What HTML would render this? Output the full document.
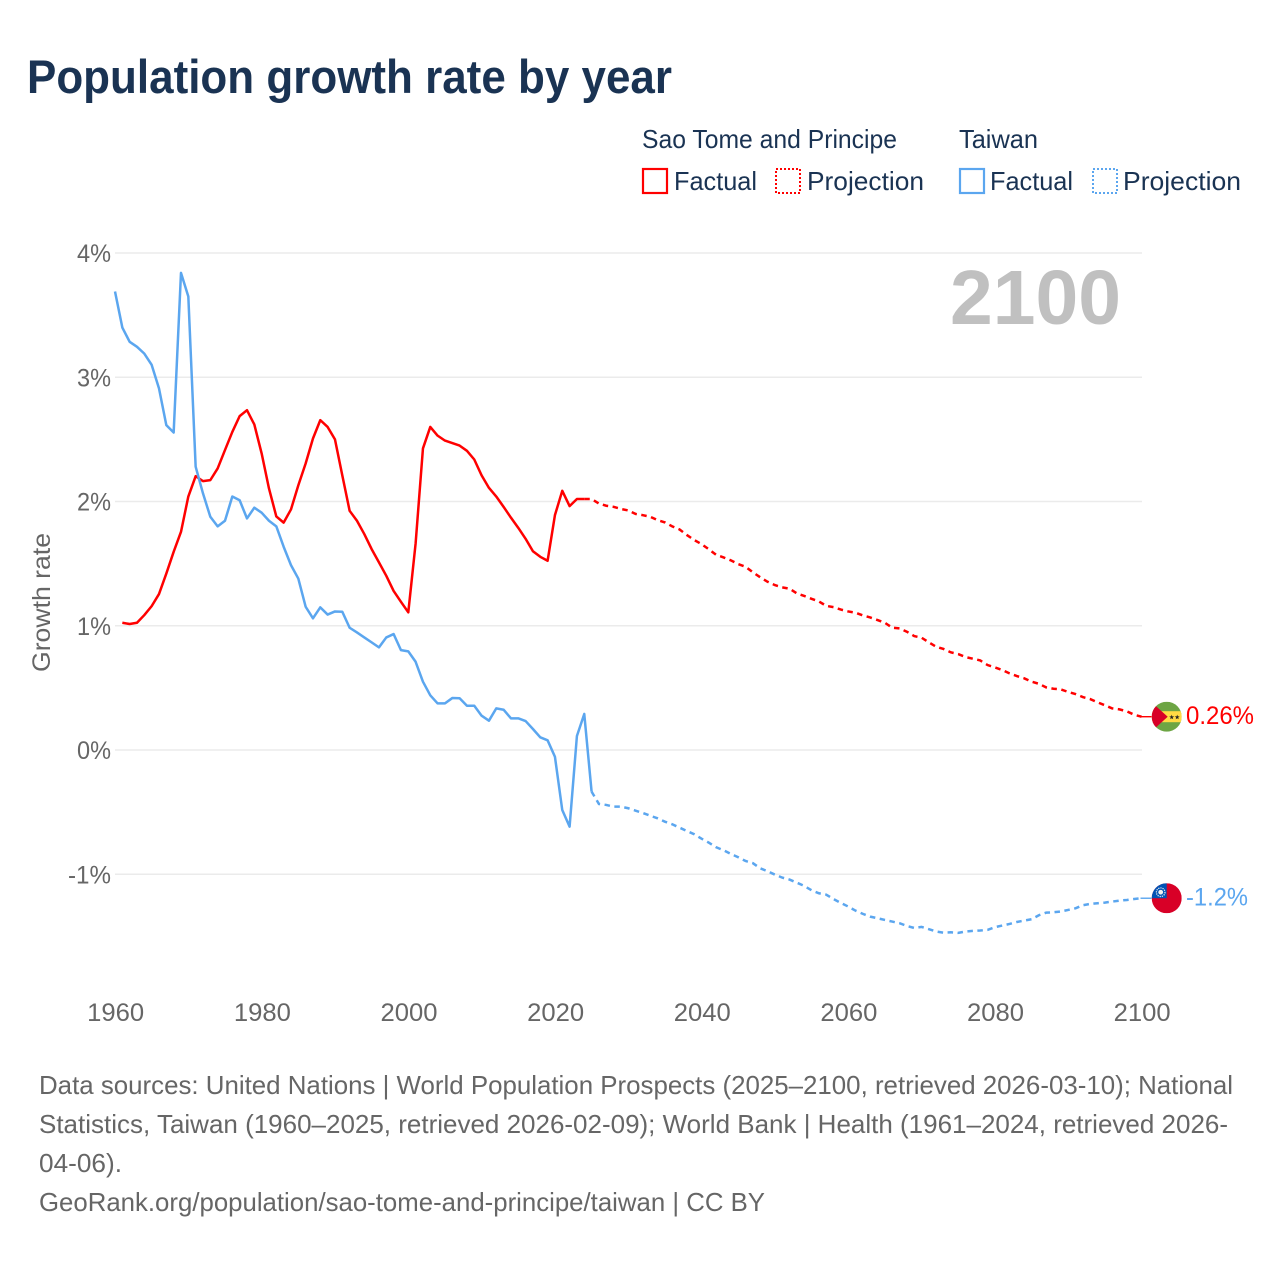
<!DOCTYPE html>
<html lang="en">
<head>
<meta charset="utf-8">
<title>Population growth rate by year</title>
<style>
  html, body { margin: 0; padding: 0; background: #fff; }
  svg { display: block; font-family: "Liberation Sans", "DejaVu Sans", sans-serif; }
  .legend-text { font-size: 26px; fill: #1a3353; }
  .note { font-size: 26px; fill: #666; }
  .tick { font-size: 25px; fill: #666; }
</style>
</head>
<body>
<svg id="chart" xmlns="http://www.w3.org/2000/svg" width="1280" height="1280" viewBox="0 0 1280 1280">
  <defs>
    <clipPath id="flag-clip"><circle cx="0" cy="0" r="15"></circle></clipPath>
  </defs>
  <rect x="0" y="0" width="1280" height="1280" fill="#ffffff"></rect>

  <text x="27" y="93" font-size="47" font-weight="700" fill="#1a3353" textLength="645" lengthAdjust="spacingAndGlyphs">Population growth rate by year</text>

  <g>
    <text class="legend-text" x="642" y="148" textLength="255" lengthAdjust="spacingAndGlyphs">Sao Tome and Principe</text>
    <text class="legend-text" x="959" y="148" textLength="79" lengthAdjust="spacingAndGlyphs">Taiwan</text>
    <g>
      <rect x="643" y="169" width="24" height="24" fill="none" stroke="#ff0000" stroke-width="2.2"></rect>
      <text class="legend-text" x="674" y="190" textLength="83" lengthAdjust="spacingAndGlyphs">Factual</text>
    </g>
    <g>
      <rect x="776" y="169" width="24" height="24" fill="none" stroke="#ff0000" stroke-width="2" stroke-dasharray="2 2"></rect>
      <text class="legend-text" x="807" y="190" textLength="117" lengthAdjust="spacingAndGlyphs">Projection</text>
    </g>
    <g>
      <rect x="960" y="169" width="24" height="24" fill="none" stroke="#5ba6ef" stroke-width="2.2"></rect>
      <text class="legend-text" x="990" y="190" textLength="83" lengthAdjust="spacingAndGlyphs">Factual</text>
    </g>
    <g>
      <rect x="1093" y="169" width="24" height="24" fill="none" stroke="#5ba6ef" stroke-width="2" stroke-dasharray="2 2"></rect>
      <text class="legend-text" x="1123" y="190" textLength="118" lengthAdjust="spacingAndGlyphs">Projection</text>
    </g>
  </g>

  <g id="grid"></g>
  <g id="y-ticks"></g>
  <g id="x-ticks"></g>

  <text transform="translate(50,672) rotate(-90)" font-size="25" fill="#666" textLength="139" lengthAdjust="spacingAndGlyphs">Growth rate</text>

  <text x="1121" y="324" text-anchor="end" font-size="77" font-weight="700" fill="#c0c0c0" textLength="171" lengthAdjust="spacingAndGlyphs">2100</text>

  <g id="series"></g>

  <g id="flag-sao-tome">
    <g clip-path="url(#flag-clip)">
      <rect x="-15" y="-15" width="30" height="30" fill="#6da544"></rect>
      <rect x="-15" y="-5.5" width="30" height="11" fill="#ffda44"></rect>
      <polygon points="-15,-14.5 1,0 -15,14.5" fill="#d80027"></polygon>
      <polygon transform="translate(5,0.5)" points="0,-2.6 .6,-.8 2.5,-.8 1,.3 1.5,2.1 0,1 -1.5,2.1 -1,.3 -2.5,-.8 -.6,-.8" fill="#222"></polygon>
      <polygon transform="translate(10.5,0.5)" points="0,-2.6 .6,-.8 2.5,-.8 1,.3 1.5,2.1 0,1 -1.5,2.1 -1,.3 -2.5,-.8 -.6,-.8" fill="#222"></polygon>
    </g>
  </g>
  <g id="flag-taiwan">
    <g clip-path="url(#flag-clip)">
      <rect x="-15" y="-15" width="30" height="30" fill="#d80027"></rect>
      <rect x="-15" y="-15" width="15" height="15" fill="#0052b4"></rect>
      <circle cx="-6" cy="-6" r="2.4" fill="#f0f0f0"></circle>
      <circle cx="-6" cy="-6" r="4.3" fill="none" stroke="#f0f0f0" stroke-width="1.2" stroke-dasharray="1.2 1"></circle>
    </g>
  </g>

  <g id="end-labels"></g>

  <g>
    <text class="note" x="39" y="1094" textLength="1194" lengthAdjust="spacingAndGlyphs">Data sources: United Nations | World Population Prospects (2025–2100, retrieved 2026-03-10); National</text>
    <text class="note" x="39" y="1133" textLength="1189" lengthAdjust="spacingAndGlyphs">Statistics, Taiwan (1960–2025, retrieved 2026-02-09); World Bank | Health (1961–2024, retrieved 2026-</text>
    <text class="note" x="39" y="1172" textLength="83" lengthAdjust="spacingAndGlyphs">04-06).</text>
    <text class="note" x="39" y="1211" textLength="726" lengthAdjust="spacingAndGlyphs">GeoRank.org/population/sao-tome-and-principe/taiwan | CC BY</text>
  </g>
</svg>

<script>
const yTickValues = [4, 3, 2, 1, 0, -1];
const yTickLabels = ["4%", "3%", "2%", "1%", "0%", "-1%"];
const xTickYears = [1960, 1980, 2000, 2020, 2040, 2060, 2080, 2100];
const saoTomeFactualFirstYear = 1961;
const saoTomeFactual = [1.024, 1.014, 1.024, 1.086, 1.158, 1.255, 1.42, 1.595, 1.756, 2.04,
  2.204, 2.164, 2.172, 2.266, 2.414, 2.56, 2.687, 2.735, 2.62, 2.387,
  2.105, 1.88, 1.83, 1.936, 2.13, 2.306, 2.507, 2.655, 2.60, 2.50,
  2.21, 1.925, 1.845, 1.738, 1.617, 1.51, 1.402, 1.28, 1.193, 1.108,
  1.663, 2.427, 2.60, 2.53, 2.49, 2.47, 2.45, 2.408, 2.338, 2.21,
  2.11, 2.04, 1.957, 1.87, 1.788, 1.70, 1.60, 1.555, 1.523, 1.89,
  2.086, 1.963, 2.02, 2.02];
const saoTomeProjectionFirstYear = 2024;
const saoTomeProjection = [2.02, 2.02, 1.984, 1.966, 1.957, 1.94, 1.928, 1.90, 1.89, 1.877,
  1.85, 1.832, 1.80, 1.775, 1.73, 1.69, 1.657, 1.615, 1.57, 1.55,
  1.526, 1.496, 1.475, 1.43, 1.39, 1.354, 1.327, 1.309, 1.298, 1.26,
  1.24, 1.217, 1.196, 1.16, 1.15, 1.13, 1.115, 1.105, 1.083, 1.067,
  1.046, 1.024, 0.984, 0.979, 0.952, 0.917, 0.904, 0.866, 0.831, 0.813,
  0.786, 0.772, 0.748, 0.735, 0.721, 0.684, 0.665, 0.644, 0.617, 0.595,
  0.577, 0.55, 0.533, 0.504, 0.493, 0.488, 0.467, 0.45, 0.426, 0.41,
  0.384, 0.36, 0.335, 0.327, 0.311, 0.284, 0.268];
const taiwanFactualFirstYear = 1960;
const taiwanFactual = [3.69, 3.40, 3.285, 3.245, 3.19, 3.10, 2.91, 2.615, 2.555, 3.84,
  3.65, 2.28, 2.065, 1.877, 1.80, 1.845, 2.04, 2.01, 1.864, 1.95,
  1.91, 1.845, 1.80, 1.636, 1.488, 1.38, 1.153, 1.06, 1.148, 1.09,
  1.115, 1.113, 0.984, 0.946, 0.906, 0.866, 0.826, 0.906, 0.933, 0.804,
  0.794, 0.71, 0.55, 0.44, 0.375, 0.375, 0.418, 0.416, 0.356, 0.356,
  0.276, 0.236, 0.335, 0.324, 0.255, 0.255, 0.233, 0.169, 0.102, 0.078,
  -0.054, -0.483, -0.617, 0.113, 0.29, -0.335];
const taiwanProjectionFirstYear = 2025;
const taiwanProjection = [-0.335, -0.434, -0.442, -0.456, -0.456, -0.469, -0.488, -0.507, -0.529, -0.55,
  -0.577, -0.598, -0.625, -0.652, -0.678, -0.714, -0.746, -0.783, -0.807, -0.837,
  -0.863, -0.893, -0.911, -0.952, -0.976, -1.003, -1.027, -1.043, -1.068, -1.094,
  -1.129, -1.153, -1.164, -1.20, -1.231, -1.26, -1.293, -1.319, -1.341, -1.354,
  -1.368, -1.381, -1.394, -1.416, -1.432, -1.424, -1.442, -1.461, -1.47, -1.467,
  -1.472, -1.461, -1.456, -1.453, -1.448, -1.426, -1.413, -1.40, -1.384, -1.373,
  -1.362, -1.33, -1.309, -1.306, -1.30, -1.287, -1.274, -1.249, -1.239, -1.233,
  -1.228, -1.22, -1.212, -1.207, -1.199, -1.193];
const saoTomeEndLabel = "0.26%";
const taiwanEndLabel = "-1.2%";

const NS = "http://www.w3.org/2000/svg";
const RED = "#ff0000";
const BLUE = "#5ba6ef";

function xScale(year) { return 115 + (year - 1960) * (1141.5 - 115) / 140; }
function yScale(value) { return 750 - value * 124.25; }

function pointsFor(firstYear, values) {
  return values.map(function (v, i) {
    return xScale(firstYear + i).toFixed(2) + "," + yScale(v).toFixed(2);
  }).join(" ");
}

const gridGroup = document.getElementById("grid");
const yTickGroup = document.getElementById("y-ticks");
yTickValues.forEach(function (v, i) {
  const line = document.createElementNS(NS, "line");
  
  
  line.setAttribute("x1", 115);
  line.setAttribute("x2", 1142);
  line.setAttribute("y1", yScale(v));
  line.setAttribute("y2", yScale(v));
  line.setAttribute("stroke", "#ebebeb");
  line.setAttribute("stroke-width", "1.4");
  gridGroup.appendChild(line);

  const label = document.createElementNS(NS, "text");
  
  
  label.setAttribute("class", "tick");
  label.setAttribute("x", 111);
  label.setAttribute("y", yScale(v) + 9);
  label.setAttribute("text-anchor", "end");
  label.setAttribute("textLength", yTickLabels[i].length === 2 ? 34 : 43);
  label.setAttribute("lengthAdjust", "spacingAndGlyphs");
  label.textContent = yTickLabels[i];
  yTickGroup.appendChild(label);
});

const xTickGroup = document.getElementById("x-ticks");
xTickYears.forEach(function (year) {
  const label = document.createElementNS(NS, "text");
  
  
  label.setAttribute("class", "tick");
  label.setAttribute("x", xScale(year) + 0.7);
  label.setAttribute("y", 1021);
  label.setAttribute("text-anchor", "middle");
  label.setAttribute("textLength", 57);
  label.setAttribute("lengthAdjust", "spacingAndGlyphs");
  label.textContent = String(year);
  xTickGroup.appendChild(label);
});

const seriesGroup = document.getElementById("series");

const saoFactualLine = document.createElementNS(NS, "polyline");


saoFactualLine.setAttribute("points", pointsFor(saoTomeFactualFirstYear, saoTomeFactual));
saoFactualLine.setAttribute("fill", "none");
saoFactualLine.setAttribute("stroke", RED);
saoFactualLine.setAttribute("stroke-width", "2.5");
saoFactualLine.setAttribute("stroke-linejoin", "round");
seriesGroup.appendChild(saoFactualLine);

const saoProjectionLine = document.createElementNS(NS, "polyline");


saoProjectionLine.setAttribute("points", pointsFor(saoTomeProjectionFirstYear, saoTomeProjection));
saoProjectionLine.setAttribute("fill", "none");
saoProjectionLine.setAttribute("stroke", RED);
saoProjectionLine.setAttribute("stroke-width", "2.5");
saoProjectionLine.setAttribute("stroke-dasharray", "5.5 4.5");
seriesGroup.appendChild(saoProjectionLine);

const taiwanFactualLine = document.createElementNS(NS, "polyline");


taiwanFactualLine.setAttribute("points", pointsFor(taiwanFactualFirstYear, taiwanFactual));
taiwanFactualLine.setAttribute("fill", "none");
taiwanFactualLine.setAttribute("stroke", BLUE);
taiwanFactualLine.setAttribute("stroke-width", "2.5");
taiwanFactualLine.setAttribute("stroke-linejoin", "round");
seriesGroup.appendChild(taiwanFactualLine);

const taiwanProjectionLine = document.createElementNS(NS, "polyline");


taiwanProjectionLine.setAttribute("points", pointsFor(taiwanProjectionFirstYear, taiwanProjection));
taiwanProjectionLine.setAttribute("fill", "none");
taiwanProjectionLine.setAttribute("stroke", BLUE);
taiwanProjectionLine.setAttribute("stroke-width", "2.5");
taiwanProjectionLine.setAttribute("stroke-dasharray", "5.5 4.5");
seriesGroup.appendChild(taiwanProjectionLine);

const saoLastY = yScale(saoTomeProjection[saoTomeProjection.length - 1]);
const taiwanLastY = yScale(taiwanProjection[taiwanProjection.length - 1]);

const saoConnector = document.createElementNS(NS, "line");


saoConnector.setAttribute("x1", xScale(2100) - 1);
saoConnector.setAttribute("x2", xScale(2100) + 10);
saoConnector.setAttribute("y1", saoLastY);
saoConnector.setAttribute("y2", saoLastY);
saoConnector.setAttribute("stroke", RED);
saoConnector.setAttribute("stroke-width", "1.4");
seriesGroup.appendChild(saoConnector);

const taiwanConnector = document.createElementNS(NS, "line");


taiwanConnector.setAttribute("x1", xScale(2100) - 1);
taiwanConnector.setAttribute("x2", xScale(2100) + 10);
taiwanConnector.setAttribute("y1", taiwanLastY);
taiwanConnector.setAttribute("y2", taiwanLastY);
taiwanConnector.setAttribute("stroke", BLUE);
taiwanConnector.setAttribute("stroke-width", "1.4");
seriesGroup.appendChild(taiwanConnector);

document.getElementById("flag-sao-tome").setAttribute("transform", "translate(" + (xScale(2100) + 25.2) + "," + saoLastY + ")");
document.getElementById("flag-taiwan").setAttribute("transform", "translate(" + (xScale(2100) + 25.2) + "," + taiwanLastY + ")");

const endLabelGroup = document.getElementById("end-labels");

const saoEnd = document.createElementNS(NS, "text");


saoEnd.setAttribute("x", 1186);
saoEnd.setAttribute("y", saoLastY + 7.5);
saoEnd.setAttribute("font-size", "25");
saoEnd.setAttribute("fill", RED);
saoEnd.setAttribute("textLength", "68");
saoEnd.setAttribute("lengthAdjust", "spacingAndGlyphs");
saoEnd.textContent = saoTomeEndLabel;
endLabelGroup.appendChild(saoEnd);

const taiwanEnd = document.createElementNS(NS, "text");


taiwanEnd.setAttribute("x", 1186);
taiwanEnd.setAttribute("y", taiwanLastY + 7.5);
taiwanEnd.setAttribute("font-size", "25");
taiwanEnd.setAttribute("fill", BLUE);
taiwanEnd.setAttribute("textLength", "62");
taiwanEnd.setAttribute("lengthAdjust", "spacingAndGlyphs");
taiwanEnd.textContent = taiwanEndLabel;
endLabelGroup.appendChild(taiwanEnd);
</script>
</body>
</html>
